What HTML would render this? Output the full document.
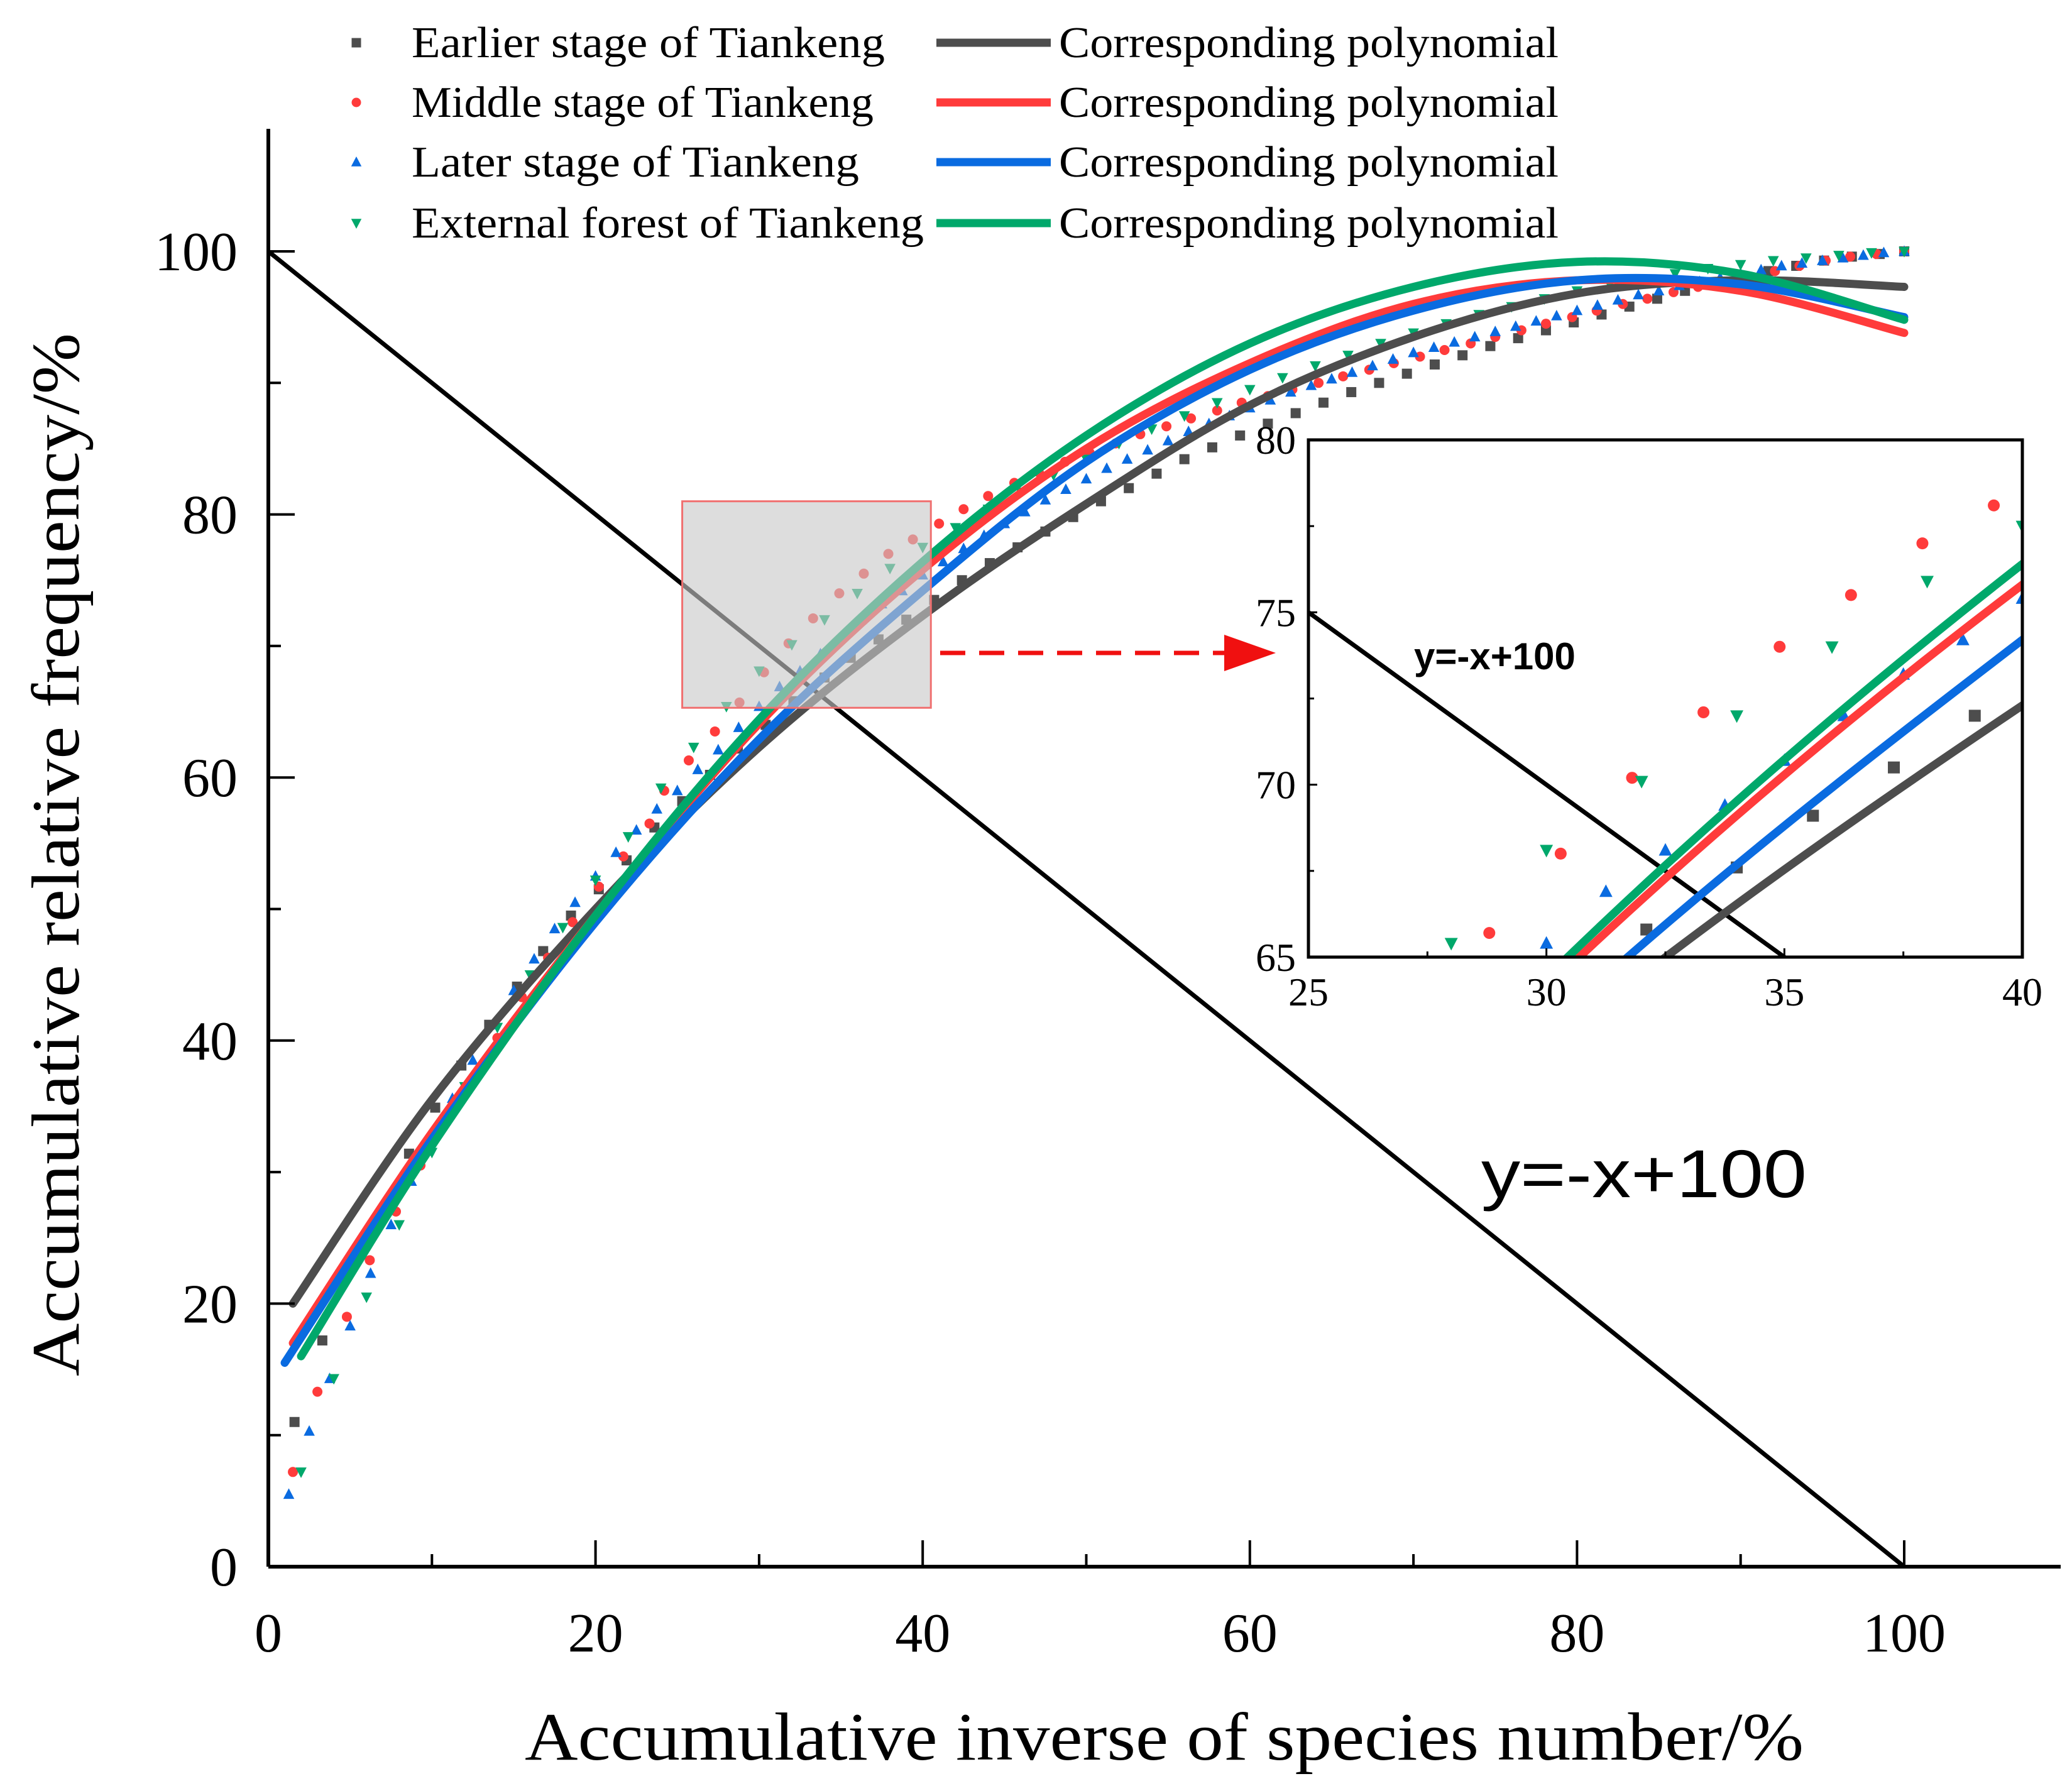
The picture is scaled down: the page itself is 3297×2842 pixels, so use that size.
<!DOCTYPE html>
<html><head><meta charset="utf-8"><style>html,body{margin:0;padding:0;background:#fff;overflow:hidden;width:3297px;height:2842px}svg{display:block}</style></head>
<body>
<svg id="chart" xmlns="http://www.w3.org/2000/svg" width="3297" height="2842" viewBox="0 0 3297 2842">
<rect x="0" y="0" width="3297" height="2842" fill="#fff"/>
<g id="main"></g>
<g id="inset"></g>
<g id="legend"></g>
</svg>
<script>
const grayX=[1.6,3.3,8.6,10.2,11.8,13.5,15.2,16.8,18.5,20.2,21.9,23.6,25.3,27,28.7,30.4,32.1,34,35.6,37.3,39,40.7,42.4,44.1,45.8,47.5,49.2,50.9,52.6,54.3,56,57.7,59.4,61.1,62.8,64.5,66.2,67.9,69.6,71.3,73,74.7,76.4,78.1,79.8,81.5,83.2,84.9,86.6,88.3,90,91.7,93.4,95.1,96.8,98.5,100];
const grayY=[11,17.2,31.4,34.9,38.1,41.2,44.1,46.8,49.5,51.5,53.7,56.2,58.2,60.2,62.2,64,65.8,67.6,69.1,70.5,72,73.5,75,76.3,77.5,78.7,79.8,81,82,83.1,84.2,85.1,86,86.9,87.7,88.5,89.3,90,90.7,91.4,92.1,92.8,93.4,94,94.6,95.2,95.8,96.4,97,97.5,98,98.5,98.9,99.3,99.6,99.8,100];
const redX=[1.5,3,4.8,6.2,7.8,9.3,10.9,12.4,14,15.5,17.1,18.6,20.2,21.7,23.3,24.2,25.7,27.3,28.8,30.3,31.8,33.3,34.9,36.4,37.9,39.4,41,42.5,44,45.6,47.1,48.7,50.2,51.8,53.3,54.9,56.4,58,59.5,61.1,62.6,64.2,65.7,67.3,68.8,70.4,71.9,73.5,75,76.6,78.1,79.7,81.2,82.8,84.3,85.9,87.4,89,90.5,92.1,93.6,95.2,96.7,98.3,100];
const redY=[7.2,13.3,19,23.3,27,30.5,33.8,37,40.2,43.3,46.3,49,51.7,54,56.5,59,61.3,63.5,65.7,68,70.2,72.1,74,75.5,77,78.1,79.3,80.4,81.4,82.4,83.2,84,84.7,85.4,86.1,86.7,87.3,87.9,88.5,89,89.5,90,90.5,91,91.5,92,92.5,93,93.5,94,94.5,95,95.5,96,96.4,96.9,97.3,97.7,98.1,98.5,98.9,99.3,99.6,99.8,100];
const blueX=[1.25,2.5,3.75,5,6.25,7.5,8.75,10,11.25,12.5,13.75,15,16.25,17.5,18.75,20,21.25,22.5,23.75,25,26.25,27.5,28.75,30,31.25,32.5,33.75,35,36.25,37.5,38.75,40,41.25,42.5,43.75,45,46.25,47.5,48.75,50,51.25,52.5,53.75,55,56.25,57.5,58.75,60,61.25,62.5,63.75,65,66.25,67.5,68.75,70,71.25,72.5,73.75,75,76.25,77.5,78.75,80,81.25,82.5,83.75,85,86.25,87.5,88.75,90,91.25,92.5,93.75,95,96.25,97.5,98.75,100];
const blueY=[5.5,10.3,14.3,18.3,22.3,26,29.3,32.6,35.6,38.5,41.2,43.8,46.2,48.5,50.5,52.5,54.3,56,57.6,59,60.6,62.1,63.8,65.4,66.9,68.1,69.4,70.7,72,73.2,74.2,75.4,76.4,77.4,78.4,79.3,80.2,81.1,81.9,82.7,83.5,84.2,84.9,85.6,86.3,86.9,87.5,88.1,88.7,89.3,89.8,90.3,90.8,91.3,91.8,92.3,92.7,93.1,93.5,93.9,94.3,94.7,95.1,95.5,95.9,96.3,96.7,97,97.4,97.7,98,98.3,98.6,98.9,99.1,99.3,99.5,99.7,99.9,100];
const greenX=[2,4,6,8,10,12,14,16,18,20,22,24,26,28,30,32,34,36,38,40,42,44,46,48,50,52,54,56,58,60,62,64,66,68,70,72,74,76,78,80,82,84,86,88,90,92,94,96,98,100];
const greenY=[7.2,14.3,20.5,26,31.5,36.5,41,45,48.6,52.2,55.5,59.2,62.3,65.4,68.1,70.1,72,74,75.9,77.5,79,80.4,81.7,83,84.2,85.4,86.5,87.5,88.5,89.5,90.4,91.3,92.1,93,93.8,94.5,95.2,95.8,96.4,97,97.5,97.9,98.3,98.7,99,99.3,99.5,99.7,99.9,100];
// fitted polynomial curves, read as key points
const grayFitX=[1.5,10,20,30,40,50,60,70,80,90,100];
const grayFitY=[20,35.5,50,62.3,72.3,80.8,88.3,93.5,96.8,97.8,97.3];
const redFitX=[1.5,10,20,30,40,50,60,70,80,90,100];
const redFitY=[17,33,49.5,64.1,75.8,85,91.5,96,97.8,97,93.8];
const blueFitX=[1,10,20,30,40,50,60,70,80,90,100];
const blueFitY=[15.5,32.5,49,62.9,74.2,84,91,95.5,97.8,97.5,95];
const greenFitX=[2,10,20,30,40,50,60,70,80,90,100];
const greenFitY=[16,32,49.5,64.4,76.4,86,93,97.3,99.2,98.3,94.8];
const refLineX=[0,100];
const refLineY=[100,0];
const xTicks=[0,20,40,60,80,100];
const yTicks=[0,20,40,60,80,100];
const insetXTicks=[25,30,35,40];
const insetYTicks=[65,70,75,80];

const NS="http://www.w3.org/2000/svg";
function mk(parent,tag,attrs,text){const e=document.createElementNS(NS,tag);for(const k in attrs)e.setAttribute(k,attrs[k]);if(text!==undefined)e.textContent=text;parent.appendChild(e);return e;}
const series=[
 {name:'earlier',color:'#4d4d4d',shape:'square',x:grayX,y:grayY,fx:grayFitX,fy:grayFitY,label:'Earlier stage of Tiankeng'},
 {name:'middle',color:'#ff3b3b',shape:'circle',x:redX,y:redY,fx:redFitX,fy:redFitY,label:'Middle stage of Tiankeng'},
 {name:'later',color:'#0a6be0',shape:'up',x:blueX,y:blueY,fx:blueFitX,fy:blueFitY,label:'Later stage of Tiankeng'},
 {name:'external',color:'#00a86b',shape:'down',x:greenX,y:greenY,fx:greenFitX,fy:greenFitY,label:'External forest of Tiankeng'}];

function marker(g,shape,cx,cy,s,color){
 let e;
 if(shape==='square') e=mk(g,'rect',{x:cx-s/2,y:cy-s/2,width:s,height:s,fill:color});
 else if(shape==='circle') e=mk(g,'circle',{cx:cx,cy:cy,r:s/2,fill:color});
 else if(shape==='up') e=mk(g,'polygon',{points:`${cx},${cy-s*0.6} ${cx-s*0.55},${cy+s*0.45} ${cx+s*0.55},${cy+s*0.45}`,fill:color});
 else e=mk(g,'polygon',{points:`${cx},${cy+s*0.6} ${cx-s*0.55},${cy-s*0.45} ${cx+s*0.55},${cy-s*0.45}`,fill:color});
 return e;
}
function smoothPath(px,py){
 let d=`M${px[0]},${py[0]}`;
 for(let i=0;i<px.length-1;i++){
  const x0=px[Math.max(i-1,0)],y0=py[Math.max(i-1,0)],x1=px[i],y1=py[i],x2=px[i+1],y2=py[i+1],x3=px[Math.min(i+2,px.length-1)],y3=py[Math.min(i+2,px.length-1)];
  d+=` C${x1+(x2-x0)/6},${y1+(y2-y0)/6} ${x2-(x3-x1)/6},${y2-(y3-y1)/6} ${x2},${y2}`;
 }
 return d;
}
function drawPlot(g,sx,sy,opt){
 series.forEach(s=>{
  const pg=mk(g,'g',{});
  
  
  s.x.forEach((v,i)=>{const m=marker(pg,s.shape,sx(v),sy(s.y[i]),opt.ms,s.color);
   
   });
 });
 const rl=mk(g,'line',{x1:sx(refLineX[0]),y1:sy(refLineY[0]),x2:sx(refLineX[1]),y2:sy(refLineY[1]),stroke:'#000','stroke-width':opt.rw});
 
 
 series.forEach(s=>{
  const p=mk(g,'path',{d:smoothPath(s.fx.map(sx),s.fy.map(sy)),fill:'none',stroke:s.color,'stroke-width':opt.lw,'stroke-linecap':'round'});
  
  
 });
}
// MAIN
const X0=427,X1=3030,Y0=2493,Y1=400;
const sx=v=>X0+(v-0)/100*(X1-X0), sy=v=>Y0-(v-0)/100*(Y0-Y1);
const main=document.getElementById('main');
const clipM=mk(main,'clipPath',{id:'cm'});mk(clipM,'rect',{x:X0,y:205,width:3279-X0,height:Y0-205});
const mg=mk(main,'g',{'clip-path':'url(#cm)'});
drawPlot(mg,sx,sy,{ms:16,lw:13,rw:7});
const hb=mk(main,'rect',{x:sx(25.3),y:sy(81),width:sx(40.5)-sx(25.3),height:sy(65.3)-sy(81),fill:'rgba(200,200,200,0.62)',stroke:'#f07070','stroke-width':3});

mk(main,'line',{x1:X0,y1:Y0,x2:3279,y2:Y0,stroke:'#000','stroke-width':6,});
mk(main,'line',{x1:X0,y1:205,x2:X0,y2:Y0,stroke:'#000','stroke-width':6,});
for(let v=10;v<=100;v+=10){const maj=v%20===0;mk(main,'line',{x1:sx(v),y1:Y0,x2:sx(v),y2:Y0-(maj?42:20),stroke:'#000','stroke-width':4});}
for(let v=10;v<=100;v+=10){const maj=v%20===0;mk(main,'line',{x1:X0,y1:sy(v),x2:X0+(maj?42:20),y2:sy(v),stroke:'#000','stroke-width':4});}
xTicks.forEach(v=>{const t=mk(main,'text',{x:sx(v),y:2628,'font-family':'Liberation Serif, serif','font-size':88,'text-anchor':'middle'},String(v));});
yTicks.forEach(v=>{const t=mk(main,'text',{x:378,y:sy(v)+30,'font-family':'Liberation Serif, serif','font-size':88,'text-anchor':'end'},String(v));});
mk(main,'text',{x:835,y:2800,'font-family':'Liberation Serif, serif','font-size':108,textLength:2035,lengthAdjust:'spacingAndGlyphs',},'Accumulative inverse of species number/%');
mk(main,'text',{x:0,y:0,transform:'translate(125,2190) rotate(-90)','font-family':'Liberation Serif, serif','font-size':108,textLength:1660,lengthAdjust:'spacingAndGlyphs',},'Accumulative relative frequency/%');
mk(main,'text',{x:2357,y:1905,'font-family':'Liberation Sans, sans-serif','font-size':108,textLength:518,lengthAdjust:'spacingAndGlyphs',},'y=-x+100');
mk(main,'line',{x1:1496,y1:1039,x2:1950,y2:1039,stroke:'#f01010','stroke-width':7,'stroke-dasharray':'40 22',});
mk(main,'polygon',{points:'1948,1010 2030,1039 1948,1068',fill:'#f01010',});
// INSET
const IX0=2082,IX1=3218,IY0=1523,IY1=700;
const ix=v=>IX0+(v-25)/15*(IX1-IX0), iy=v=>IY0-(v-65)/15*(IY0-IY1);
const inset=document.getElementById('inset');
mk(inset,'rect',{x:IX0,y:IY1,width:IX1-IX0,height:IY0-IY1,fill:'#fff'});
const clipI=mk(inset,'clipPath',{id:'ci'});mk(clipI,'rect',{x:IX0,y:IY1,width:IX1-IX0,height:IY0-IY1});
const ig=mk(inset,'g',{'clip-path':'url(#ci)'});
drawPlot(ig,ix,iy,{ms:19,lw:13,rw:7});
mk(inset,'rect',{x:IX0,y:IY1,width:IX1-IX0,height:IY0-IY1,fill:'none',stroke:'#000','stroke-width':5,});
for(let v=27.5;v<40;v+=2.5){const maj=v%5===0;mk(inset,'line',{x1:ix(v),y1:IY0,x2:ix(v),y2:IY0-(maj?14:9),stroke:'#000','stroke-width':3});}
for(let v=67.5;v<80;v+=2.5){const maj=v%5===0;mk(inset,'line',{x1:IX0,y1:iy(v),x2:IX0+(maj?14:9),y2:iy(v),stroke:'#000','stroke-width':3});}
insetXTicks.forEach(v=>{const t=mk(inset,'text',{x:ix(v),y:1600,'font-family':'Liberation Serif, serif','font-size':64,'text-anchor':'middle'},String(v));});
insetYTicks.forEach(v=>{const t=mk(inset,'text',{x:2062,y:iy(v)+22,'font-family':'Liberation Serif, serif','font-size':64,'text-anchor':'end'},String(v));});
mk(inset,'text',{x:2250,y:1065,'font-family':'Liberation Sans, sans-serif','font-size':60,'font-weight':'bold',},'y=-x+100');
// LEGEND
const legend=document.getElementById('legend');
const rows=[68,163,258,355];
const legendWidths=[753,735,712,815];
series.forEach((s,i)=>{
 const g=mk(legend,'g',{});
 
 
 marker(g,s.shape,567,rows[i],15,s.color);
 mk(g,'text',{x:655,y:rows[i]+23,'font-family':'Liberation Serif, serif','font-size':70,textLength:legendWidths[i],lengthAdjust:'spacingAndGlyphs'},s.label);
 mk(g,'line',{x1:1490,y1:rows[i],x2:1672,y2:rows[i],stroke:s.color,'stroke-width':13});
 mk(g,'text',{x:1685,y:rows[i]+23,'font-family':'Liberation Serif, serif','font-size':70,textLength:795,lengthAdjust:'spacingAndGlyphs'},'Corresponding polynomial');
});
</script>
</body></html>
